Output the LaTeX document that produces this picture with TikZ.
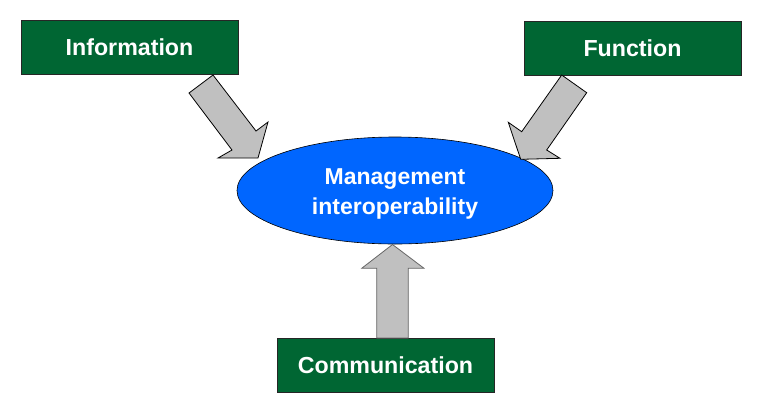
\documentclass[tikz,border=0pt]{standalone}
\usepackage{fontspec}
\setmainfont{Liberation Sans}
\usetikzlibrary{shapes.geometric}
\definecolor{boxgreen}{HTML}{006633}
\definecolor{ellblue}{HTML}{0066FF}
\definecolor{arrgrey}{HTML}{C0C0C0}
\begin{document}
\begin{tikzpicture}[x=1pt,y=-1pt,
  greenbox/.style={draw=black!85,line width=0.8pt,fill=boxgreen,text=white,
    font=\fontsize{23.2}{27}\selectfont\bfseries,minimum width=217pt,minimum height=54pt,inner sep=0pt},
  blockarrow/.style={draw=black,line width=0.8pt,fill=arrgrey,line join=miter}]
\useasboundingbox (0,0) rectangle (761,405);
\node[greenbox] (info) at (129.5,47.5) {Information};
\node[greenbox] (func) at (632.5,48) {Function};
\node[greenbox] (comm) at (385.5,365.5) {Communication};
\node[draw=black,line width=0.6pt,fill=ellblue,ellipse,minimum width=316pt,minimum height=107pt,inner sep=0pt] (mgmt) at (395,190.5) {};
\node[text=white,font=\fontsize{23}{30}\selectfont\bfseries,align=center,inner sep=0pt] (mgmtlabel) at ([yshift=-3pt]mgmt.center)
  {Management\\interoperability};
% Information arrow
\draw[blockarrow] (213,75) -- (256,131) -- (268,122) -- (258,158) -- (218,158) -- (232,150) -- (189,93) -- cycle;
% Function arrow
\draw[blockarrow] (561.7,75) -- (521.7,131.7) -- (508.3,122.3) -- (520.7,159.3) -- (560,158.3) -- (546.7,150) -- (586.7,92.7) -- cycle;
% Communication arrow
\draw[blockarrow,draw=black!60] (376.7,338) -- (376.7,268.3) -- (361.7,268.3) -- (392.5,244.5) -- (424,268.3) -- (408.3,268.3) -- (408.3,338) -- cycle;
\end{tikzpicture}
\end{document}
